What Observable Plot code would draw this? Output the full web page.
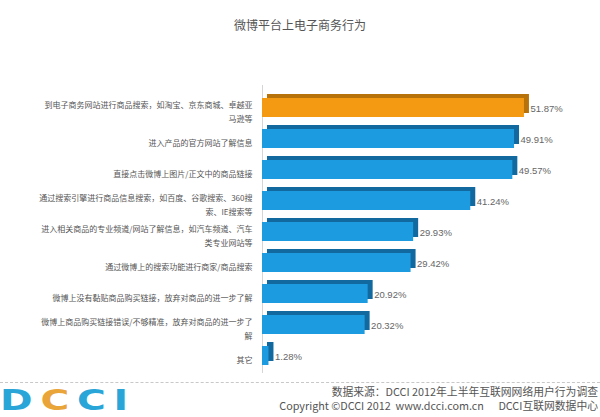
<!DOCTYPE html>
<html>
<head>
<meta charset="utf-8">
<script src="https://cdn.jsdelivr.net/npm/d3@7"></script>
<script src="https://cdn.jsdelivr.net/npm/@observablehq/plot@0.6"></script>
<style>
  html, body { margin: 0; padding: 0; background: #fff; }
  #wrap { width: 600px; height: 417px; position: relative; overflow: hidden; font-family: "Noto Sans CJK SC", "Noto Sans", sans-serif; }
  #title { height: 50px; line-height: 50px; text-align: center; font-size: 12px; color: #555; }
  #chart svg { display: block; }
  #footer { position: absolute; left: 0; top: 382px; width: 600px; height: 35px; border-top: 1px dashed #c8c8c8; }
  #logo { position: absolute; left: 0px; top: 4px; font-family: "DejaVu Sans", sans-serif; font-size: 28px; line-height: 1; letter-spacing: 5.6px; font-weight: bold; transform: scaleX(1.4); transform-origin: left center; white-space: nowrap; }
  #src { position: absolute; right: 2px; top: 1px; text-align: right; font-size: 10.8px; line-height: 14px; color: #555; white-space: pre; }
</style>
</head>
<body>
<div id="wrap">
  <div id="title">微博平台上电子商务行为</div>
  <div id="chart"></div>
  <div id="footer">
    <div id="logo"><span style="color:#2aa5d8">D</span><span style="color:#e9a43a">C</span><span style="color:#2aa5d8">C</span><span style="color:#2aa5d8">I</span></div>
    <div id="src">数据来源：DCCI 2012年上半年互联网网络用户行为调查
Copyright ©DCCI 2012  www.dcci.com.cn      DCCI互联网数据中心</div>
  </div>
</div>
<script>
const categories = [
  "到电子商务网站进行商品搜索，如淘宝、京东商城、卓越亚\n马逊等",
  "进入产品的官方网站了解信息",
  "直接点击微博上图片/正文中的商品链接",
  "通过搜索引擎进行商品信息搜索，如百度、谷歌搜索、360搜\n索、IE搜索等",
  "进入相关商品的专业频道/网站了解信息，如汽车频道、汽车\n类专业网站等",
  "通过微博上的搜索功能进行商家/商品搜索",
  "微博上没有黏贴商品购买链接，放弃对商品的进一步了解",
  "微博上商品购买链接错误/不够精准，放弃对商品的进一步了\n解",
  "其它"
];
const values = [51.87, 49.91, 49.57, 41.24, 29.93, 29.42, 20.92, 20.32, 1.28];
const highlightIndex = [0];

const data = categories.map((c, i) => ({category: c, value: values[i], hi: highlightIndex.includes(i)}));

const front = d => d.hi ? "#f39a12" : "#1d9be0";
const side = d => d.hi ? "#b7720a" : "#11699f";

const chart = Plot.plot({
  width: 600,
  height: 332,
  marginLeft: 262,
  marginRight: 35,
  marginTop: 32,
  marginBottom: 1,
  x: {domain: [0, 60], axis: null},
  y: {domain: categories, padding: 0.4, axis: null},
  marks: [
    Plot.ruleX([0], {stroke: "#d5d5d5", insetTop: 3, insetBottom: 8}),
    Plot.barX(data, {x: "value", y: "category", fill: side, dx: 5, dy: -4}),
    Plot.barX(data, {x: "value", y: "category", fill: front}),
    Plot.text(data, {x: "value", y: "category", text: d => d.value.toFixed(2) + "%", dx: 6, dy: 1, textAnchor: "start", fontSize: 9.5, fill: "#666", fontFamily: "Liberation Sans, Arial, sans-serif"}),
    Plot.text(data, {x: 0, y: "category", text: "category", dx: -10, dy: 3, textAnchor: "end", fontSize: 8, lineHeight: 1.75, fill: "#555", fontFamily: "Noto Sans CJK SC, sans-serif"})
  ]
});
document.getElementById("chart").appendChild(chart);
</script>
</body>
</html>
